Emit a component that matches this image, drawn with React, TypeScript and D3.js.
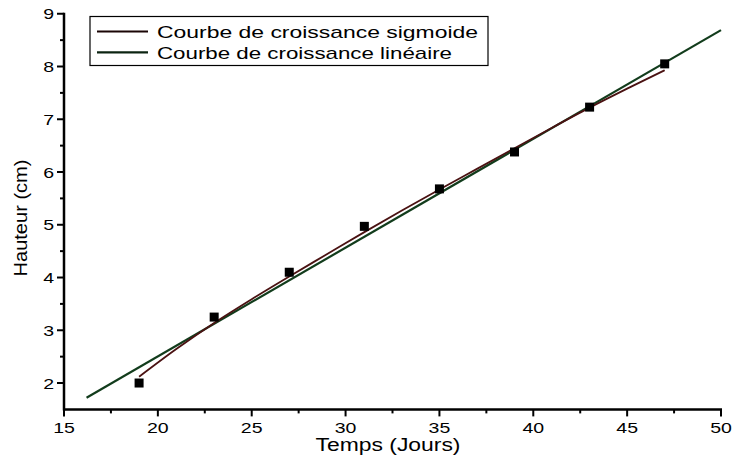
import React from "react";
import * as d3 from "d3";

// measured points
const timeDays = [19, 23, 27, 31, 35, 39, 43, 47];
const heightCm = [2.0, 3.25, 4.1, 4.97, 5.68, 6.38, 7.23, 8.05];

// sigmoid fit curve
const sigmoidDays = [19, 21, 23, 25, 27, 29, 31, 33, 35, 37, 39, 41, 43, 45, 47];
const sigmoidCm = [2.12, 2.65, 3.14, 3.59, 4.02, 4.44, 4.86, 5.27, 5.67, 6.06, 6.45, 6.84, 7.22, 7.58, 7.93];

// linear fit endpoints
const linearDays = [16.2, 50];
const linearCm = [1.72, 8.69];

const xMajor = [15, 20, 25, 30, 35, 40, 45, 50];
const yMajor = [2, 3, 4, 5, 6, 7, 8, 9];
const legendLabels = ["Courbe de croissance sigmoide", "Courbe de croissance linéaire"];

const W = 734;
const H = 466;
const FONT = "'Liberation Sans', Arial, sans-serif";
const STRETCH = 1.3; // the picture is a bit wide

const App = () => {
  const x = d3.scaleLinear().domain([15, 50]).range([64, 721]);
  const y = d3.scaleLinear().domain([1.5, 9]).range([409.4, 13.75]);

  const xMinor = d3.range(17.5, 50, 5);
  const yMinor = d3.range(2.5, 9, 1);

  const line = d3
    .line<[number, number]>()
    .x((d) => x(d[0]))
    .y((d) => y(d[1]));
  const sigLine = d3
    .line<[number, number]>()
    .x((d) => x(d[0]))
    .y((d) => y(d[1]))
    .curve(d3.curveMonotoneX);

  const sigPts = sigmoidDays.map((d, i) => [d, sigmoidCm[i]] as [number, number]);
  const linPts = linearDays.map((d, i) => [d, linearCm[i]] as [number, number]);

  const digitW = (s: string, fs: number) => s.length * 0.556 * fs * STRETCH;

  return (
    <svg
      width={W}
      height={H}
      style={{ position: "absolute", left: 0, top: 0, background: "#fff" }}
      fontFamily={FONT}
    >
      {/* linear fit */}
      <path d={line(linPts) || ""} fill="none" stroke="#123c1c" strokeWidth={2.2} />
      {/* sigmoid fit */}
      <path d={sigLine(sigPts) || ""} fill="none" stroke="#4a1212" strokeWidth={1.8} />

      {timeDays.map((t, i) => (
        <rect key={t} x={x(t) - 4.5} y={y(heightCm[i]) - 4.5} width={9} height={9} fill="#000" />
      ))}

      {/* x axis */}
      <line x1={x(15) - 1} x2={x(50) + 1} y1={y(1.5)} y2={y(1.5)} stroke="#000" strokeWidth={2.5} />
      {xMajor.map((t) => (
        <g key={t}>
          <line x1={x(t)} x2={x(t)} y1={y(1.5)} y2={y(1.5) + 7} stroke="#000" strokeWidth={2} />
          <text
            x={x(t)}
            y={433}
            fontSize={15}
            textAnchor="middle"
            textLength={digitW(String(t), 15)}
            lengthAdjust="spacingAndGlyphs"
          >
            {t}
          </text>
        </g>
      ))}
      {xMinor.map((t) => (
        <line key={t} x1={x(t)} x2={x(t)} y1={y(1.5)} y2={y(1.5) + 4} stroke="#000" strokeWidth={2} />
      ))}

      {/* y axis */}
      <line x1={x(15)} x2={x(15)} y1={y(9) - 1} y2={y(1.5) + 1} stroke="#000" strokeWidth={2.5} />
      {yMajor.map((t) => (
        <g key={t}>
          <line x1={x(15) - 7} x2={x(15)} y1={y(t)} y2={y(t)} stroke="#000" strokeWidth={2} />
          <text
            x={54}
            y={y(t) + 5.5}
            fontSize={15}
            textAnchor="end"
            textLength={digitW(String(t), 15)}
            lengthAdjust="spacingAndGlyphs"
          >
            {t}
          </text>
        </g>
      ))}
      {yMinor.map((t) => (
        <line key={t} x1={x(15) - 4} x2={x(15)} y1={y(t)} y2={y(t)} stroke="#000" strokeWidth={2} />
      ))}

      {/* axis titles */}
      <text
        x={388}
        y={451}
        fontSize={18}
        textAnchor="middle"
        textLength={145}
        lengthAdjust="spacingAndGlyphs"
      >
        Temps (Jours)
      </text>
      <text
        transform="translate(27,218) rotate(-90)"
        fontSize={18}
        textAnchor="middle"
        textLength={117}
        lengthAdjust="spacingAndGlyphs"
      >
        Hauteur (cm)
      </text>

      {/* legend */}
      <rect x={90} y={16.5} width={398} height={49} fill="#fff" stroke="#000" strokeWidth={1.2} />
      {legendLabels.map((lab, i) => (
        <g key={lab}>
          <line x1={97} x2={148} y1={31.5 + i * 20.8} y2={31.5 + i * 20.8} stroke={i === 0 ? "#1a0505" : "#0c2412"} strokeWidth={2.2} />
          <text
            x={157}
            y={37.5 + i * 21.5}
            fontSize={17}
            textLength={i === 0 ? 321 : 295}
            lengthAdjust="spacingAndGlyphs"
          >
            {lab}
          </text>
        </g>
      ))}
    </svg>
  );
};

export default App;
